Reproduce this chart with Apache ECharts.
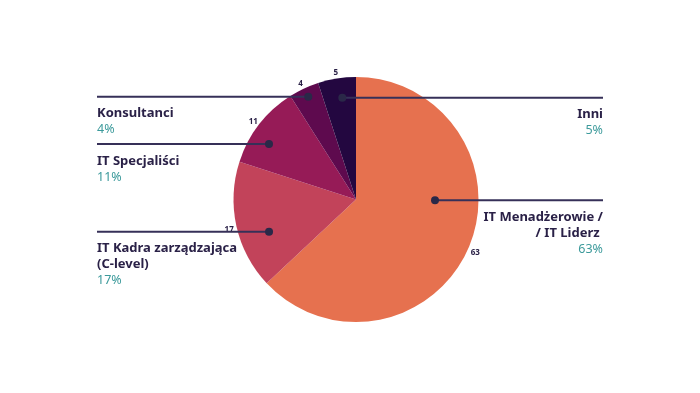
<!DOCTYPE html>
<html><head><meta charset="utf-8">
<script src="https://cdn.jsdelivr.net/npm/echarts@6/dist/echarts.min.js"></script>
<style>html,body{margin:0;padding:0;background:#fff}#c{width:700px;height:393px}</style>
</head><body><div id="c"></div>
<script>
// ---- data ----
const categories = ['IT Menadżerowie /\n/ IT Liderz ', 'IT Kadra zarządzająca\n(C-level)', 'IT Specjaliści', 'Konsultanci', 'Inni'];
const values = [63, 17, 11, 4, 5];
const percentLabels = ['63%', '17%', '11%', '4%', '5%'];

// ---- styles / annotation placement ----
const colors = ['#E6714F', '#C2435A', '#961B57', '#5E0A4E', '#230740'];
const markerSide = ['right', 'left', 'left', 'left', 'right'];
const markerAngleFrac = [0.399, 0.374, 0.366, 0.52, 0.574];
const markerRadiusFrac = [0.645, 0.757, 0.842, 0.925, 0.838];

const CX = 356, CY = 199.5, R = 122.5, LEFT_X = 97, RIGHT_X = 603, NUM_R = 130, NUM_DY = 2;
const NAVY = '#2A2147', TEAL = '#3C9A9B', LINE = '#363058';
const FONT = '"Noto Sans", sans-serif';

const total = values.reduce((a, b) => a + b, 0);
const starts = [];
let acc = 0;
values.forEach(v => { starts.push(acc); acc += v; });

function polar(theta, r) {
  const a = theta * Math.PI / 180;
  return [CX + r * Math.sin(a), CY - r * Math.cos(a)];
}

const graphics = [];
values.forEach((v, i) => {
  const theta = (starts[i] + markerAngleFrac[i] * v) / total * 360;
  const p = polar(theta, markerRadiusFrac[i] * R);
  const edge = markerSide[i] === 'left' ? LEFT_X : RIGHT_X;
  const align = markerSide[i] === 'left' ? 'left' : 'right';
  graphics.push({
    type: 'line', z: 10,
    shape: { x1: p[0], y1: p[1], x2: edge, y2: p[1] },
    style: { stroke: LINE, lineWidth: 2 }
  });
  graphics.push({
    type: 'circle', z: 11,
    shape: { cx: p[0], cy: p[1], r: 4 },
    style: { fill: '#2A2848' }
  });
  const lines = categories[i].split('\n');
  lines.forEach((t, k) => {
    graphics.push({
      type: 'text', z: 10,
      style: {
        text: t, x: edge, y: p[1] + 17 + k * 16,
        textAlign: align, textVerticalAlign: 'middle',
        fill: NAVY, font: 'bold 13px ' + FONT
      }
    });
  });
  graphics.push({
    type: 'text', z: 10,
    style: {
      text: percentLabels[i], x: edge, y: p[1] + 17 + lines.length * 16,
      textAlign: align, textVerticalAlign: 'middle',
      fill: TEAL, font: '12.5px ' + FONT
    }
  });
});

const chart = echarts.init(document.getElementById('c'), null, { renderer: 'canvas' });
chart.setOption({
  animation: false,
  backgroundColor: '#fff',
  graphic: graphics,
  series: [{
    type: 'pie',
    center: [CX, CY],
    radius: R,
    startAngle: 90,
    clockwise: true,
    silent: true,
    data: values.map((v, i) => ({ value: v, name: categories[i], itemStyle: { color: colors[i] } })),
    label: {
      show: true, position: 'outside', formatter: '{c}',
      fontSize: 8, fontWeight: 'bold', color: NAVY, fontFamily: FONT
    },
    labelLine: { show: false },
    labelLayout: function (params) {
      const i = params.dataIndex;
      const theta = (starts[i] + values[i] / 2) / total * 360;
      const p = polar(theta, NUM_R);
      return { x: p[0], y: p[1] + NUM_DY, align: 'center', verticalAlign: 'middle' };
    }
  }]
});
</script>
</body></html>
